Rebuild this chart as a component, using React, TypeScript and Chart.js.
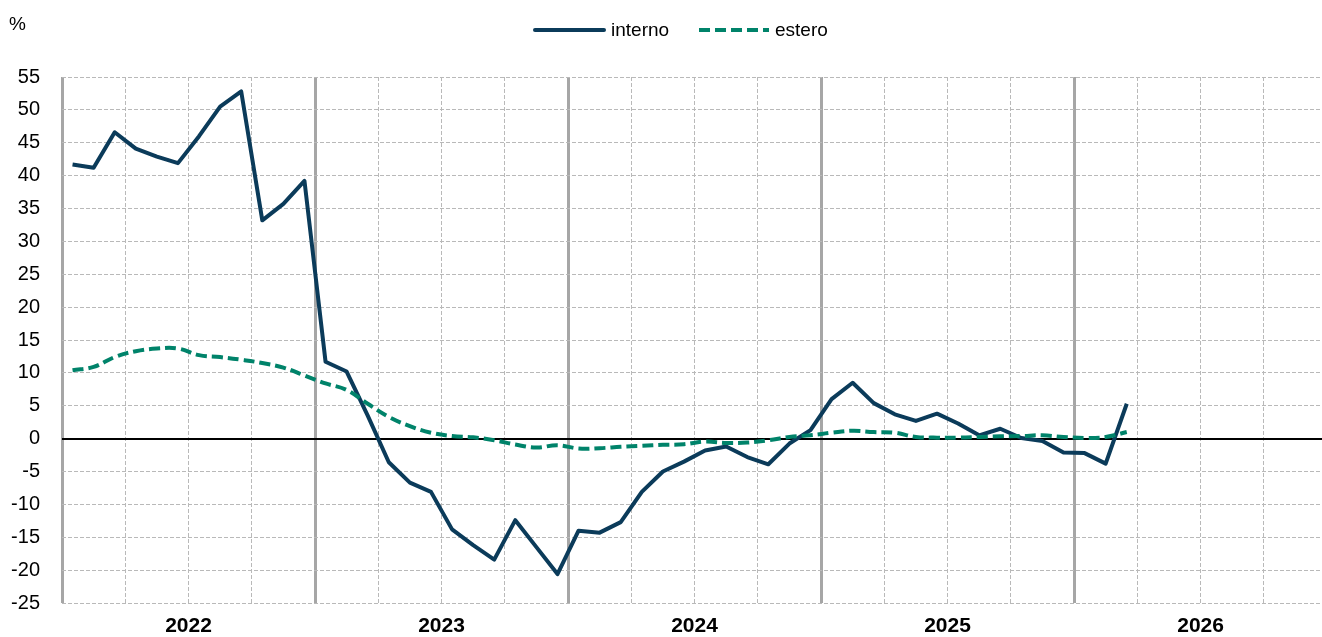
import { useEffect, useRef } from "react";
import { Chart, registerables } from "chart.js";

Chart.register(...registerables);

// ---- data (monthly, Jan 2022 .. Mar 2026) ----
const YEAR_LABELS = ["2022", "2023", "2024", "2025", "2026"];
const SERIES_NAMES = ["interno", "estero"];
const INTERNO = [
  41.7, 41.2, 46.6, 44.1, 42.9, 41.9, 46.0, 50.5, 52.8, 33.2, 35.7, 39.2,
  11.7, 10.2, 3.5, -3.6, -6.7, -8.1, -13.8, -16.2, -18.4, -12.4, -16.5, -20.6,
  -14.0, -14.3, -12.7, -8.1, -5.0, -3.5, -1.8, -1.2, -2.8, -3.9, -0.75, 1.3,
  6.0, 8.5, 5.4, 3.7, 2.7, 3.8, 2.3, 0.5, 1.5, 0.1, -0.35, -2.1,
  -2.2, -3.8, 5.3,
];
const ESTERO = [
  10.4, 10.9, 12.4, 13.3, 13.7, 13.7, 12.7, 12.4, 12.0, 11.5, 10.8, 9.6,
  8.4, 7.4, 5.3, 3.3, 1.9, 0.9, 0.4, 0.2, -0.25, -0.9, -1.35, -1.0,
  -1.5, -1.45, -1.25, -1.1, -0.95, -0.85, -0.45, -0.65, -0.6, -0.25, 0.25, 0.5,
  0.9, 1.2, 1.0, 0.9, 0.25, 0.15, 0.15, 0.25, 0.35, 0.4, 0.5, 0.25,
  0.1, 0.25, 1.0,
];
const Y_MIN = -25;
const Y_MAX = 55;
const Y_STEP = 5;
const MONTHS_PER_YEAR = 12;
const MONTHS_PER_QUARTER = 3;
const X_MAX_MONTHS = 59.76; // visible span of the axis (cut at right edge)

const FONT = '"Liberation Sans", Arial, sans-serif';
const INTERNO_COLOR = "#0b3b5a";
const ESTERO_COLOR = "#00836a";

const toPoints = (vals: number[]) => vals.map((v, i) => ({ x: i + 0.5, y: v }));

const overlayPlugin = {
  id: "overlayLegend",
  afterDraw(chart: any) {
    const ctx = chart.ctx;
    ctx.save();
    const slots = [
      { x0: 535, x1: 604, tx: 611 },
      { x0: 699, x1: 769, tx: 775 },
    ];
    chart.data.datasets.forEach((ds: any, i: number) => {
      const s = slots[i];
      ctx.beginPath();
      ctx.setLineDash(ds.borderDash || []);
      ctx.lineWidth = 4;
      ctx.lineCap = ds.borderDash ? "butt" : "round";
      ctx.strokeStyle = ds.borderColor;
      ctx.moveTo(s.x0, 30);
      ctx.lineTo(s.x1, 30);
      ctx.stroke();
      ctx.setLineDash([]);
      ctx.fillStyle = "#000";
      ctx.font = `19px ${FONT}`;
      ctx.textBaseline = "middle";
      ctx.textAlign = "left";
      ctx.fillText(ds.label, s.tx, 31);
    });
    ctx.font = `19px ${FONT}`;
    ctx.textBaseline = "middle";
    ctx.textAlign = "left";
    ctx.fillStyle = "#000";
    ctx.fillText("%", 9, 25);
    ctx.restore();
  },
};

export default function App() {
  const ref = useRef<HTMLCanvasElement | null>(null);

  useEffect(() => {
    if (!ref.current) return;
    const quarterTicks: number[] = [];
    for (let v = 0; v < X_MAX_MONTHS; v += MONTHS_PER_QUARTER) quarterTicks.push(v);

    const chart = new Chart(ref.current, {
      type: "line",
      data: {
        datasets: [
          {
            label: SERIES_NAMES[0],
            data: toPoints(INTERNO),
            borderColor: INTERNO_COLOR,
            backgroundColor: INTERNO_COLOR,
            borderWidth: 4,
            pointRadius: 0,
            tension: 0,
            borderJoinStyle: "round",
            order: 1,
          },
          {
            label: SERIES_NAMES[1],
            data: toPoints(ESTERO),
            borderColor: ESTERO_COLOR,
            backgroundColor: ESTERO_COLOR,
            borderWidth: 4,
            borderDash: [11, 5],
            pointRadius: 0,
            tension: 0.4,
            order: 0,
          },
        ],
      },
      options: {
        animation: false,
        responsive: false,
        maintainAspectRatio: false,
        layout: { padding: { top: 77, left: 0, right: 0, bottom: 0 } },
        plugins: {
          legend: { display: false },
          tooltip: { enabled: false },
        },
        scales: {
          x: {
            type: "linear",
            min: 0,
            max: X_MAX_MONTHS,
            afterBuildTicks: (scale: any) => {
              scale.ticks = quarterTicks.map((v) => ({ value: v }));
            },
            afterFit: (scale: any) => {
              scale.height = 34;
            },
            border: {
              display: false,
              dash: (ctx: any) =>
                ctx.tick && ctx.tick.value % MONTHS_PER_YEAR === 0 ? [] : [4, 2],
            },
            grid: {
              drawTicks: false,
              color: (ctx: any) =>
                ctx.tick && ctx.tick.value % MONTHS_PER_YEAR === 0 ? "#a6a6a6" : "#b9b9b9",
              lineWidth: (ctx: any) =>
                ctx.tick && ctx.tick.value % MONTHS_PER_YEAR === 0 ? 3 : 1,
            },
            ticks: {
              autoSkip: false,
              maxRotation: 0,
              padding: 11,
              color: "#000",
              font: { family: FONT, size: 21, weight: "bold" },
              callback: (value: any) => {
                const v = Number(value);
                if (v % MONTHS_PER_YEAR === 6) return YEAR_LABELS[(v - 6) / MONTHS_PER_YEAR] ?? "";
                return "";
              },
            },
          },
          y: {
            min: Y_MIN,
            max: Y_MAX,
            afterFit: (scale: any) => {
              scale.width = 62;
            },
            border: {
              display: false,
              dash: (ctx: any) => (ctx.tick && ctx.tick.value === 0 ? [] : [4, 2]),
            },
            grid: {
              drawTicks: false,
              color: (ctx: any) => (ctx.tick && ctx.tick.value === 0 ? "#000" : "#b9b9b9"),
              lineWidth: (ctx: any) => (ctx.tick && ctx.tick.value === 0 ? 2 : 1),
            },
            ticks: {
              stepSize: Y_STEP,
              padding: 22,
              color: "#000",
              font: { family: FONT, size: 20 },
            },
          },
        },
      },
      plugins: [overlayPlugin],
    } as any);
    return () => chart.destroy();
  }, []);

  return (
    <div style={{ position: "fixed", left: 0, top: 0, width: 1322, height: 637, background: "#fff" }}>
      <canvas ref={ref} width={1322} height={637} style={{ width: 1322, height: 637, display: "block" }} />
    </div>
  );
}
